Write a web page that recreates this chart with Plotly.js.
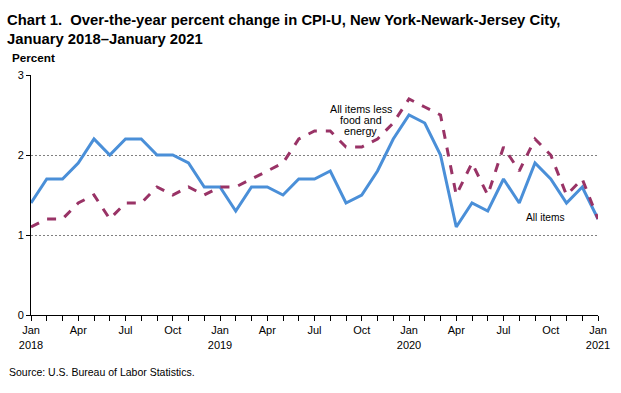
<!DOCTYPE html>
<html>
<head>
<meta charset="utf-8">
<script src="https://cdn.plot.ly/plotly-3.0.1.min.js"></script>
<style>html,body{margin:0;padding:0;background:#fff;}#chart{width:621px;height:393px;}</style>
</head>
<body>
<div id="chart"></div>
<script>
const months = ["Jan 2018","Feb 2018","Mar 2018","Apr 2018","May 2018","Jun 2018","Jul 2018","Aug 2018","Sep 2018","Oct 2018","Nov 2018","Dec 2018",
"Jan 2019","Feb 2019","Mar 2019","Apr 2019","May 2019","Jun 2019","Jul 2019","Aug 2019","Sep 2019","Oct 2019","Nov 2019","Dec 2019",
"Jan 2020","Feb 2020","Mar 2020","Apr 2020","May 2020","Jun 2020","Jul 2020","Aug 2020","Sep 2020","Oct 2020","Nov 2020","Dec 2020","Jan 2021"];
const allItems = [1.4,1.7,1.7,1.9,2.2,2.0,2.2,2.2,2.0,2.0,1.9,1.6,
1.6,1.3,1.6,1.6,1.5,1.7,1.7,1.8,1.4,1.5,1.8,2.2,
2.5,2.4,2.0,1.1,1.4,1.3,1.7,1.4,1.9,1.7,1.4,1.6,1.2];
const core = [1.1,1.2,1.2,1.4,1.5,1.2,1.4,1.4,1.6,1.5,1.6,1.5,
1.6,1.6,1.7,1.8,1.9,2.2,2.3,2.3,2.1,2.1,2.2,2.4,
2.7,2.6,2.5,1.5,1.9,1.5,2.1,1.8,2.2,2.0,1.5,1.7,1.2];
const tickText = months.map(m => {
  const [mon, yr] = m.split(" ");
  if (mon === "Jan") return "Jan<br>" + yr;
  if (mon === "Apr" || mon === "Jul" || mon === "Oct") return mon;
  return "";
});
const yTicks = [0,1,2,3];
const coreLabel = ["All items less", "food and", "energy"];

const FONT = "Liberation Sans, Arial, sans-serif";
const traces = [
  {x: months, y: allItems, type: "scatter", mode: "lines", name: "All items",
   line: {color: "#4a8fd8", width: 3}},
  {x: months, y: core, type: "scatter", mode: "lines", name: "All items less food and energy",
   line: {color: "#993366", width: 3, dash: "dash"}}
];

const annotations = [
  {xref: "paper", yref: "paper", x: -26/567, y: 1 + 65/240, xanchor: "left", yanchor: "top", showarrow: false, align: "left",
   text: "<b>Chart 1.&nbsp; Over-the-year percent change in CPI-U, New York-Newark-Jersey City,<br>January 2018–January 2021</b>",
   font: {size: 14.8, family: FONT}},
  {xref: "paper", yref: "paper", x: -21/567, y: 1 + 26/240, xanchor: "left", yanchor: "top", showarrow: false,
   text: "<b>Percent</b>", font: {size: 11.7}},
  {xref: "x", yref: "y", x: "Sep 2020", xshift: 10, y: 1.225, xanchor: "center", yanchor: "middle", showarrow: false,
   text: "All items", font: {size: 10.2}},
  {xref: "paper", yref: "paper", x: -24/567, y: -57/240, xanchor: "left", yanchor: "middle", showarrow: false,
   text: "Source: U.S. Bureau of Labor Statistics.", font: {size: 10.5}}
];
const coreY = [2.58, 2.44, 2.30];
coreLabel.forEach((t, i) => annotations.push({
  xref: "x", yref: "y", x: "Oct 2019", xshift: -1, y: coreY[i], xanchor: "center", yanchor: "middle",
  showarrow: false, text: t, font: {size: 10.7}
}));

const layout = {
  width: 621, height: 393,
  margin: {l: 31, r: 23, t: 75, b: 78},
  paper_bgcolor: "#fff", plot_bgcolor: "#fff",
  showlegend: false,
  font: {family: FONT, size: 11, color: "#000"},
  xaxis: {
    type: "category", range: [0, 36],
    tickvals: months, ticktext: tickText,
    tickangle: 0,
    ticks: "outside", ticklen: 5, tickcolor: "#000", tickwidth: 1,
    showline: true, linecolor: "#000", linewidth: 1,
    showgrid: false, zeroline: false,
    tickfont: {size: 11}
  },
  yaxis: {
    range: [0, 3], tickvals: yTicks,
    ticks: "outside", ticklen: 4, tickcolor: "#000",
    showline: true, linecolor: "#000", linewidth: 1,
    showgrid: true, gridcolor: "#808080", griddash: "2px,2px", gridwidth: 1,
    zeroline: false, tickfont: {size: 11}
  },
  annotations: annotations
};

Plotly.newPlot("chart", traces, layout, {displayModeBar: false, staticPlot: true});
</script>
</body>
</html>
